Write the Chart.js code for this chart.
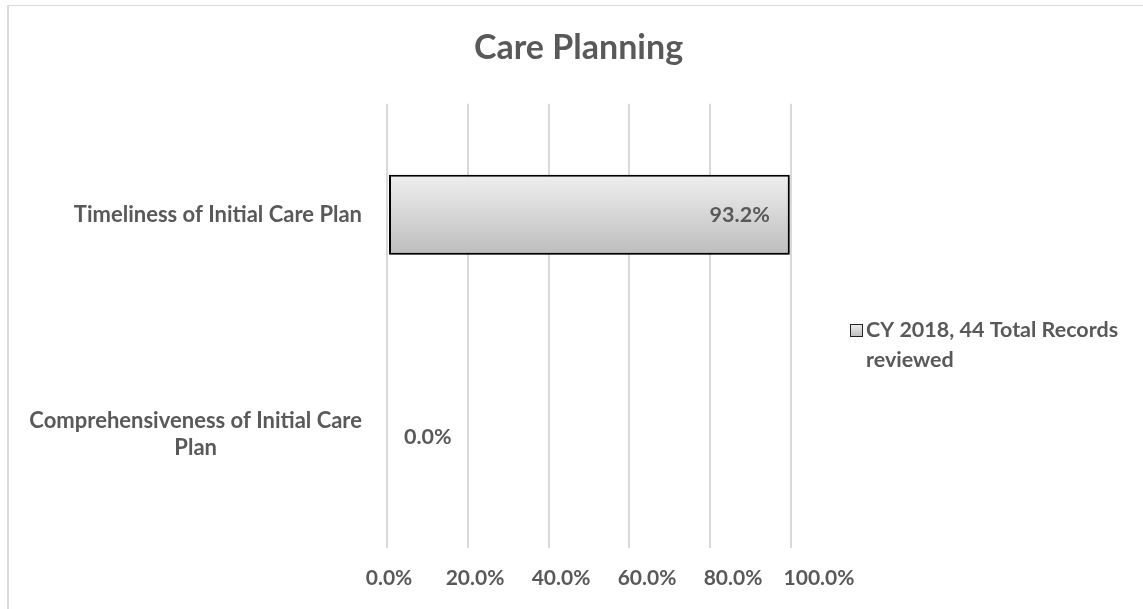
<!DOCTYPE html>
<html>
<head>
<meta charset="utf-8">
<title>Care Planning</title>
<script src="https://cdn.jsdelivr.net/npm/chart.js@4.4.1/dist/chart.umd.min.js"></script>
<style>
  body { margin: 0; background: #fff; }
  #wrap { position: relative; width: 1143px; height: 609px; overflow: hidden; }
  #frame { position: absolute; left: 7px; top: 5px; width: 1200px; height: 700px;
           border-left: 2px solid #d9d9d9; border-top: 1px solid #d9d9d9; }
  #myChart { position: absolute; left: 0; top: 0; }
</style>
</head>
<body>
<div id="wrap">
  <div id="frame"></div>
  <canvas id="myChart" width="1143" height="609"></canvas>
</div>
<script>
// chart data
var categories = [['Timeliness of Initial Care Plan'], ['Comprehensiveness of Initial Care', 'Plan']];
var seriesName = 'CY 2018, 44 Total Records reviewed';
var seriesValues = [0.932, 0.0];
var tickValues = [0, 0.2, 0.4, 0.6, 0.8, 1.0];

var textColor = '#595959';
var fontFamily = 'Lato, "Open Sans", sans-serif';

function barGradient(ctx, y0, y1) {
  var g = ctx.createLinearGradient(0, y0, 0, y1);
  g.addColorStop(0, '#efefef');
  g.addColorStop(1, '#bdbdbd');
  return g;
}

function setTicks(axis) {
  axis.ticks = tickValues.map(function(v) { return { value: v }; });
}

// category labels drawn by hand so the second line is centred under the first
var catLabels = {
  id: 'catLabels',
  afterDraw: function(chart) {
    var ctx = chart.ctx, yScale = chart.scales.y;
    var rightEdge = chart.chartArea.left - 25;
    ctx.save();
    ctx.font = 'bold 22px ' + fontFamily;
    ctx.fillStyle = textColor;
    ctx.textBaseline = 'middle';
    ctx.textAlign = 'center';
    categories.forEach(function(lines, i) {
      var yc = yScale.getPixelForValue(i);
      var w = 0;
      lines.forEach(function(l) { w = Math.max(w, ctx.measureText(l).width); });
      var cx = rightEdge - w / 2;
      var lh = 27;
      var top = lines.length == 1 ? yc : yc - (lines.length - 1) * lh / 2 - 2;
      lines.forEach(function(l, k) { ctx.fillText(l, cx, top + k * lh); });
    });
    ctx.restore();
  }
};

// value labels
var valueLabels = {
  id: 'valueLabels',
  afterDatasetsDraw: function(chart) {
    var ctx = chart.ctx;
    var meta = chart.getDatasetMeta(0);
    ctx.save();
    ctx.font = 'bold 21.5px ' + fontFamily;
    ctx.fillStyle = textColor;
    ctx.textBaseline = 'middle';
    meta.data.forEach(function(bar, i) {
      var txt = (seriesValues[i] * 100).toFixed(1) + '%';
      if (seriesValues[i] > 0.1) {
        ctx.textAlign = 'right';
        ctx.fillText(txt, bar.x - 20, bar.y);
      } else {
        ctx.textAlign = 'left';
        ctx.fillText(txt, bar.x + 15, bar.y);
      }
    });
    ctx.restore();
  }
};

// bar shadow
var barShadow = {
  id: 'barShadow',
  beforeDatasetDraw: function(chart) {
    var ctx = chart.ctx;
    ctx.save();
    ctx.shadowColor = 'rgba(0,0,0,0.35)';
    ctx.shadowBlur = 3;
    ctx.shadowOffsetX = 2;
    ctx.shadowOffsetY = 2;
  },
  afterDatasetDraw: function(chart) {
    chart.ctx.restore();
  }
};

// legend with wrapped text on the right
var sideLegend = {
  id: 'sideLegend',
  afterDraw: function(chart) {
    var ctx = chart.ctx;
    var x = 850, y = 330;
    ctx.save();
    ctx.font = 'bold 21.5px ' + fontFamily;
    ctx.fillStyle = barGradient(ctx, y - 6, y + 7);
    ctx.fillRect(x, y - 6, 13, 13);
    ctx.strokeStyle = '#222';
    ctx.lineWidth = 1;
    ctx.strokeRect(x + 0.5, y - 5.5, 12, 12);
    var words = seriesName.split(' '), lines = [], cur = '';
    words.forEach(function(w) {
      var t = cur ? cur + ' ' + w : w;
      if (ctx.measureText(t).width > 265 && cur) { lines.push(cur); cur = w; } else { cur = t; }
    });
    lines.push(cur);
    ctx.fillStyle = textColor;
    ctx.textAlign = 'left';
    ctx.textBaseline = 'middle';
    lines.forEach(function(l, k) { ctx.fillText(l, x + 16, y + k * 30); });
    ctx.restore();
  }
};

var ctx = document.getElementById('myChart').getContext('2d');
var chart = new Chart(ctx, {
  type: 'bar',
  data: {
    labels: categories,
    datasets: [{
      label: seriesName,
      data: seriesValues,
      xAxisID: 'xv',
      backgroundColor: function(c) {
        var ch = c.chart;
        if (!ch.chartArea) return '#d9d9d9';
        var yc = ch.scales.y.getPixelForValue(c.dataIndex);
        return barGradient(ch.ctx, yc - 40, yc + 40);
      },
      borderColor: '#000',
      borderWidth: 2,
      borderSkipped: false,
      categoryPercentage: 1,
      barPercentage: 0.36
    }]
  },
  options: {
    indexAxis: 'y',
    responsive: false,
    animation: false,
    layout: { padding: { left: 14, right: 0, top: 0, bottom: 0 } },
    scales: {
      // gridlines only
      x: {
        position: 'bottom',
        min: 0, max: 1,
        afterBuildTicks: setTicks,
        ticks: { display: false },
        grid: { color: '#d9d9d9', lineWidth: 2, drawTicks: false },
        border: { display: false }
      },
      // value axis with labels (spacing as in the original image)
      xv: {
        position: 'bottom',
        min: -0.00465, max: 0.9349,
        afterBuildTicks: setTicks,
        ticks: {
          color: textColor,
          font: { family: fontFamily, size: 21, weight: 'bold' },
          padding: 18,
          callback: function(v) { return (v * 100).toFixed(1) + '%'; }
        },
        grid: { display: false, drawTicks: false },
        border: { display: false }
      },
      y: {
        ticks: { display: false },
        grid: { display: false },
        border: { display: false },
        afterFit: function(axis) { axis.width = 373; }
      },
      // empty right-hand axis keeps room for the legend
      yRight: {
        type: 'category',
        position: 'right',
        ticks: { display: false },
        grid: { display: false },
        border: { display: false },
        afterFit: function(axis) { axis.width = 352; }
      }
    },
    plugins: {
      legend: { display: false },
      tooltip: { enabled: false },
      title: {
        display: true,
        text: 'Care Planning',
        color: textColor,
        font: { family: fontFamily, size: 34, weight: 'bold' },
        padding: { top: 28, bottom: 35 }
      }
    }
  },
  plugins: [barShadow, valueLabels, catLabels, sideLegend]
});
</script>
</body>
</html>
